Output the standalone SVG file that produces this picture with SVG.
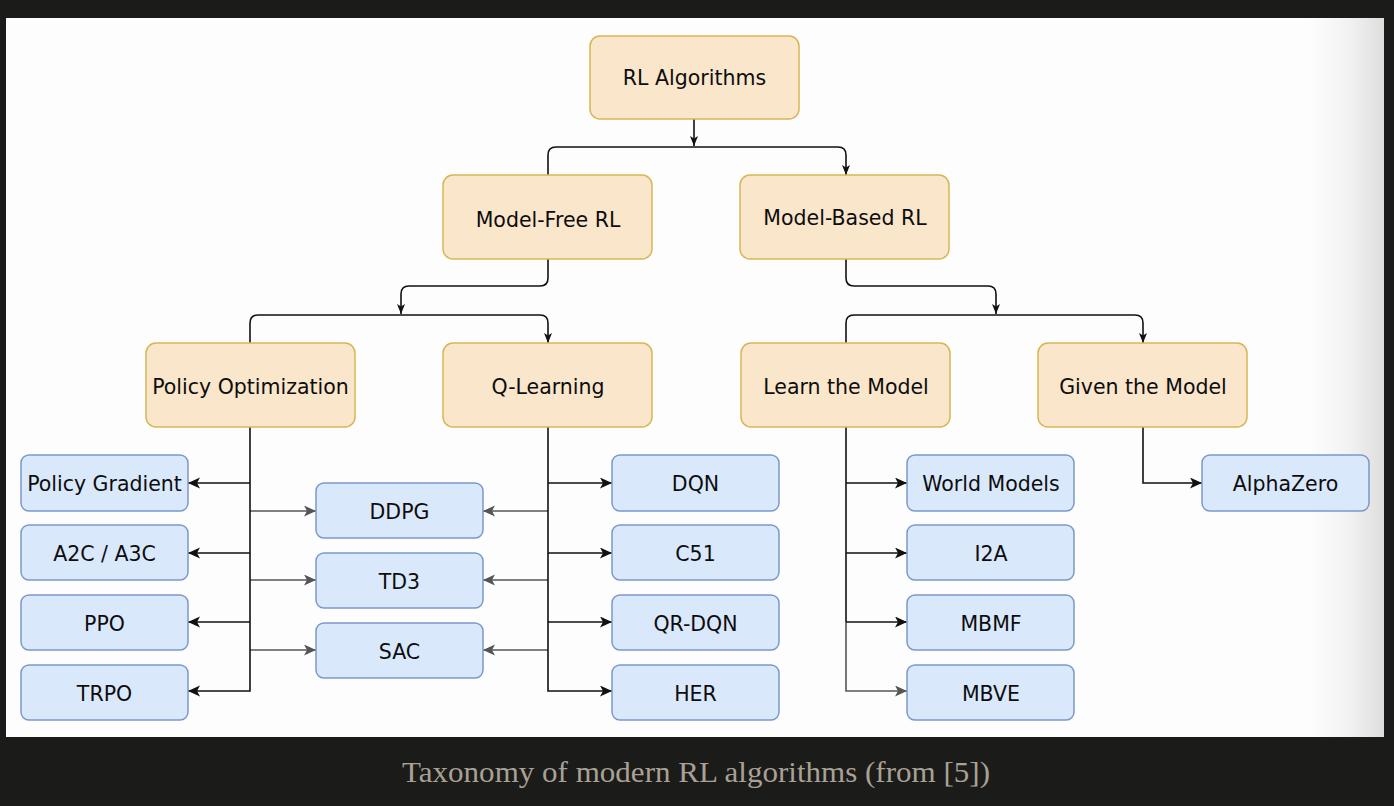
<svg xmlns="http://www.w3.org/2000/svg" width="1394" height="806" viewBox="0 0 1394 806">
<defs>
<linearGradient id="fade" x1="0" y1="0" x2="1" y2="0">
<stop offset="0" stop-color="#fdfdfd"/>
<stop offset="0.5" stop-color="#f3f3f3"/>
<stop offset="1" stop-color="#dedede"/>
</linearGradient>
<marker id="ab" markerUnits="userSpaceOnUse" markerWidth="14" markerHeight="12" refX="12" refY="5.5" orient="auto">
<path d="M0,0 L12,5.5 L0,11 L3,5.5 Z" fill="#111"/>
</marker>
<marker id="ag" markerUnits="userSpaceOnUse" markerWidth="14" markerHeight="12" refX="12" refY="5.5" orient="auto">
<path d="M0,0 L12,5.5 L0,11 L3,5.5 Z" fill="#555"/>
</marker>
<marker id="as" markerUnits="userSpaceOnUse" markerWidth="12" markerHeight="10" refX="10" refY="4" orient="auto">
<path d="M0,0 L10,4 L0,8 L2.5,4 Z" fill="#111"/>
</marker>
</defs>
<style>
.o{fill:#fae6cb;stroke:#d6b656;stroke-width:1.5}
.b{fill:#dae8fc;stroke:#7b98c8;stroke-width:1.5}
.t{font-family:"DejaVu Sans",Verdana,sans-serif;font-size:20.5px;fill:#0d0d0d;text-anchor:middle}
.k{fill:none;stroke:#111;stroke-width:1.6}
.g{fill:none;stroke:#555;stroke-width:1.6}
</style>
<rect x="0" y="0" width="1394" height="806" fill="#1b1b19"/>
<rect x="6" y="18" width="1378" height="719" fill="#fdfdfd"/>
<rect x="1310" y="18" width="74" height="719" fill="url(#fade)"/>

<g id="connectors">
<path class="k" d="M694,119 V146" marker-end="url(#as)"/>
<path class="k" d="M548,175 V155 Q548,147 556,147 H838 Q846,147 846,155 V175" marker-start="url(#as)" marker-end="url(#as)"/>
<path class="k" d="M548,259 V278 Q548,286 540,286 H409 Q401,286 401,294 V314" marker-end="url(#as)"/>
<path class="k" d="M250,343 V323 Q250,315 258,315 H540 Q548,315 548,323 V343" marker-start="url(#as)" marker-end="url(#as)"/>
<path class="k" d="M846,259 V278 Q846,286 854,286 H988 Q996,286 996,294 V314" marker-end="url(#as)"/>
<path class="k" d="M846,343 V323 Q846,315 854,315 H1135 Q1143,315 1143,323 V343" marker-start="url(#as)" marker-end="url(#as)"/>

<path class="g" d="M250,511 H316" marker-end="url(#ag)"/>
<path class="g" d="M250,580 H316" marker-end="url(#ag)"/>
<path class="g" d="M250,650 H316" marker-end="url(#ag)"/>
<path class="k" d="M250,427 V691 H188" marker-end="url(#ab)"/>
<path class="k" d="M250,483 H188" marker-end="url(#ab)"/>
<path class="k" d="M250,553 H188" marker-end="url(#ab)"/>
<path class="k" d="M250,622 H188" marker-end="url(#ab)"/>

<path class="g" d="M548,511 H483" marker-end="url(#ag)"/>
<path class="g" d="M548,580 H483" marker-end="url(#ag)"/>
<path class="g" d="M548,650 H483" marker-end="url(#ag)"/>
<path class="k" d="M548,427 V691 H612" marker-end="url(#ab)"/>
<path class="k" d="M548,483 H612" marker-end="url(#ab)"/>
<path class="k" d="M548,553 H612" marker-end="url(#ab)"/>
<path class="k" d="M548,622 H612" marker-end="url(#ab)"/>

<path class="g" d="M846,622 V691 H907" marker-end="url(#ag)"/>
<path class="k" d="M846,427 V622"/>
<path class="k" d="M846,483 H907" marker-end="url(#ab)"/>
<path class="k" d="M846,553 H907" marker-end="url(#ab)"/>
<path class="k" d="M846,622 H907" marker-end="url(#ab)"/>

<path class="k" d="M1143,427 V483 H1202" marker-end="url(#ab)"/>
</g>

<g id="rl-algorithms"><rect class="o" x="590" y="36" width="209" height="83" rx="10"/><text class="t" x="694.5" y="85">RL Algorithms</text></g>
<g id="model-free"><rect class="o" x="443" y="175" width="209" height="84" rx="10"/><text class="t" x="548" y="227">Model-Free RL</text></g>
<g id="model-based"><rect class="o" x="740" y="175" width="209" height="84" rx="10"/><text class="t" x="845" y="225">Model-Based RL</text></g>
<g id="policy-optimization"><rect class="o" x="146" y="343" width="209" height="84" rx="10"/><text class="t" x="250.5" y="394">Policy Optimization</text></g>
<g id="q-learning"><rect class="o" x="443" y="343" width="209" height="84" rx="10"/><text class="t" x="548" y="394">Q-Learning</text></g>
<g id="learn-model"><rect class="o" x="741" y="343" width="209" height="84" rx="10"/><text class="t" x="846" y="394">Learn the Model</text></g>
<g id="given-model"><rect class="o" x="1038" y="343" width="209" height="84" rx="10"/><text class="t" x="1143" y="394">Given the Model</text></g>

<g id="policy-gradient"><rect class="b" x="21" y="455" width="167" height="56" rx="8"/><text class="t" x="104.5" y="491">Policy Gradient</text></g>
<g id="a2c"><rect class="b" x="21" y="525" width="167" height="55" rx="8"/><text class="t" x="104.5" y="561">A2C / A3C</text></g>
<g id="ppo"><rect class="b" x="21" y="595" width="167" height="55" rx="8"/><text class="t" x="104.5" y="631">PPO</text></g>
<g id="trpo"><rect class="b" x="21" y="665" width="167" height="55" rx="8"/><text class="t" x="104.5" y="701">TRPO</text></g>

<g id="ddpg"><rect class="b" x="316" y="483" width="167" height="55" rx="8"/><text class="t" x="399.5" y="519">DDPG</text></g>
<g id="td3"><rect class="b" x="316" y="553" width="167" height="55" rx="8"/><text class="t" x="399.5" y="589">TD3</text></g>
<g id="sac"><rect class="b" x="316" y="623" width="167" height="55" rx="8"/><text class="t" x="399.5" y="659">SAC</text></g>

<g id="dqn"><rect class="b" x="612" y="455" width="167" height="56" rx="8"/><text class="t" x="695.5" y="491">DQN</text></g>
<g id="c51"><rect class="b" x="612" y="525" width="167" height="55" rx="8"/><text class="t" x="695.5" y="561">C51</text></g>
<g id="qr-dqn"><rect class="b" x="612" y="595" width="167" height="55" rx="8"/><text class="t" x="695.5" y="631">QR-DQN</text></g>
<g id="her"><rect class="b" x="612" y="665" width="167" height="55" rx="8"/><text class="t" x="695.5" y="701">HER</text></g>

<g id="world-models"><rect class="b" x="907" y="455" width="167" height="56" rx="8"/><text class="t" x="991" y="491">World Models</text></g>
<g id="i2a"><rect class="b" x="907" y="525" width="167" height="55" rx="8"/><text class="t" x="991" y="561">I2A</text></g>
<g id="mbmf"><rect class="b" x="907" y="595" width="167" height="55" rx="8"/><text class="t" x="991" y="631">MBMF</text></g>
<g id="mbve"><rect class="b" x="907" y="665" width="167" height="55" rx="8"/><text class="t" x="991" y="701">MBVE</text></g>

<g id="alphazero"><rect class="b" x="1202" y="455" width="167" height="56" rx="8"/><text class="t" x="1285.5" y="491">AlphaZero</text></g>

<text x="696" y="782" font-family="Liberation Serif, serif" font-size="30" fill="#a9a195" text-anchor="middle" textLength="588" lengthAdjust="spacingAndGlyphs">Taxonomy of modern RL algorithms (from [5])</text>
</svg>
